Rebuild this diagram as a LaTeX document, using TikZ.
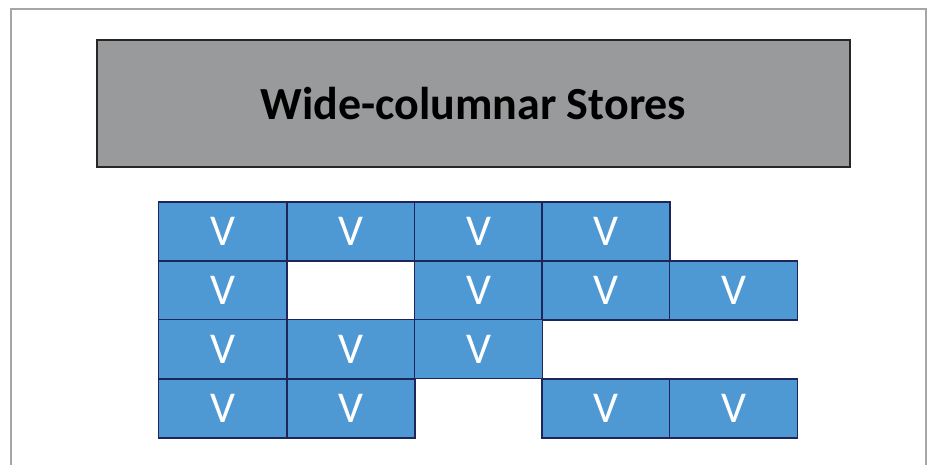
\documentclass[tikz,border=0pt]{standalone}
\usepackage{fontspec}
\setmainfont{Carlito}
\definecolor{framegray}{HTML}{A6A6A6}
\definecolor{titlegray}{HTML}{989A9C}
\definecolor{cellblue}{HTML}{4E98D3}
\definecolor{cellline}{HTML}{1E2559}
\tikzset{
  titlebox/.style={draw=black!85, line width=1.6pt, fill=titlegray, minimum width=753pt, minimum height=127pt, inner sep=0pt,
    font=\fontsize{46}{46}\selectfont\bfseries, text=black},
  cell/.style={draw=cellline, line width=1.6pt, fill=cellblue, minimum width=128pt, minimum height=59pt, inner sep=0pt,
    font=\fontsize{44}{44}\selectfont, text=white},
  gap/.style={cell, fill=white},
  frameline/.style={draw=framegray, line width=1.6pt}
}
\begin{document}
\begin{tikzpicture}[x=1pt,y=-1pt]
  \useasboundingbox (0,0) rectangle (930,465);
  \fill[white] (0,0) rectangle (930,465);
  % outer frame, open at the bottom
  \draw[frameline] (11,470) -- (11,9) -- (926,9) -- (926,470);
  % heading
  \node[titlebox] (title) at (473.5,103.5) {Wide-columnar Stores};
  % grid of value cells: column x centres and row y centres
  \foreach \r/\y in {1/231.5,2/290.5,3/349,4/408.5}{
    \foreach \c/\x in {1/222.5,2/351,3/478.5,4/606,5/733.5}{
      \coordinate (p-\r-\c) at (\x,\y);
    }
  }
  % row 1
  \foreach \c in {1,2,3,4}{ \node[cell] (v-1-\c) at (p-1-\c) {V}; }
  % row 2
  \node[cell] (v-2-1) at (p-2-1) {V};
  \node[gap]  (v-2-2) at (p-2-2) {};
  \foreach \c in {3,4,5}{ \node[cell] (v-2-\c) at (p-2-\c) {V}; }
  % row 3
  \foreach \c in {1,2,3}{ \node[cell] (v-3-\c) at (p-3-\c) {V}; }
  % row 4
  \foreach \c in {1,2,4,5}{ \node[cell] (v-4-\c) at (p-4-\c) {V}; }
\end{tikzpicture}
\end{document}
